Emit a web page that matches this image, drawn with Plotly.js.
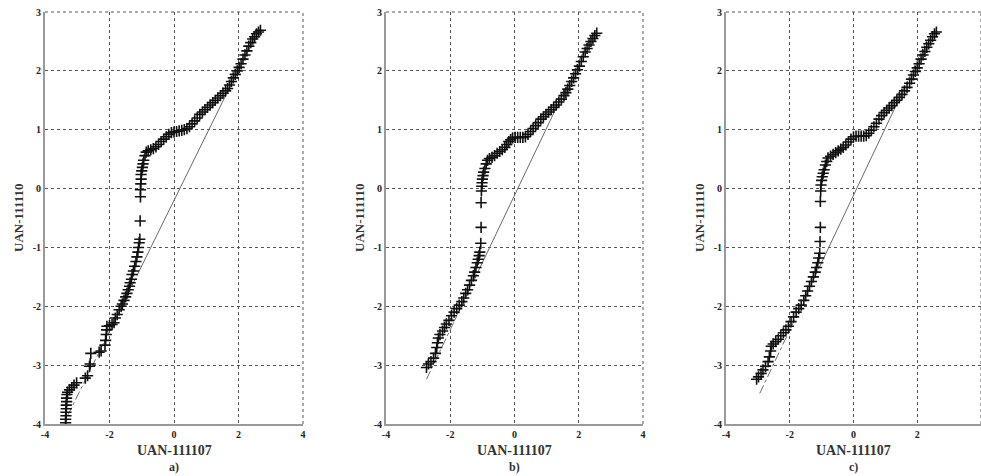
<!DOCTYPE html>
<html>
<head>
<meta charset="utf-8">
<script src="https://cdn.plot.ly/plotly-3.0.1.min.js"></script>
<style>html,body{margin:0;padding:0;background:#fff;}#chart{width:981px;height:476px;}</style>
</head>
<body>
<div id="chart"></div>
<script>
// ---- data ----
const panelLabels = ["a)", "b)", "c)"];
const xTitle = "UAN-111107";
const yTitle = "UAN-111110";
const xTicks = [-4, -2, 0, 2, 4];
const yTicks = [-4, -3, -2, -1, 0, 1, 2, 3];

const aX = [-3.36,-3.36,-3.35,-3.35,-3.34,-3.34,-3.33,-3.33,-3.32,-3.3,-3.24,-3.17,-3.1,-3.02,-2.75,-2.68,-2.62,-2.6,-2.58,-2.32,-2.26,-2.14,-2.12,-2.1,-2.09,-2.08,-2.0,-1.92,-1.86,-1.82,-1.76,-1.7,-1.64,-1.6,-1.55,-1.5,-1.46,-1.42,-1.38,-1.36,-1.32,-1.3,-1.26,-1.22,-1.18,-1.15,-1.12,-1.1,-1.08,-1.06,-1.05,-1.04,-1.04,-1.03,-1.02,-1.02,-1.0,-0.98,-0.96,-0.94,-0.9,-0.86,-0.8,-0.72,-0.64,-0.56,-0.48,-0.4,-0.32,-0.24,-0.16,-0.08,0.0,0.08,0.16,0.24,0.32,0.4,0.48,0.56,0.64,0.72,0.8,0.88,0.96,1.04,1.12,1.2,1.28,1.36,1.44,1.52,1.6,1.66,1.72,1.78,1.84,1.9,1.96,2.02,2.08,2.14,2.2,2.26,2.32,2.38,2.44,2.5,2.56,2.62,2.68];
const aY = [-3.98,-3.92,-3.86,-3.8,-3.74,-3.68,-3.62,-3.56,-3.5,-3.46,-3.42,-3.38,-3.34,-3.3,-3.22,-3.18,-3.02,-2.98,-2.8,-2.78,-2.76,-2.66,-2.58,-2.48,-2.4,-2.34,-2.33,-2.31,-2.28,-2.2,-2.14,-2.06,-2.0,-1.96,-1.9,-1.84,-1.78,-1.72,-1.66,-1.6,-1.54,-1.46,-1.4,-1.32,-1.24,-1.16,-1.08,-1.0,-0.92,-0.86,-0.55,-0.14,-0.02,0.08,0.16,0.24,0.3,0.36,0.42,0.48,0.56,0.62,0.64,0.66,0.68,0.71,0.75,0.8,0.84,0.88,0.92,0.95,0.96,0.97,0.98,0.99,1.0,1.02,1.05,1.1,1.15,1.2,1.26,1.3,1.34,1.38,1.42,1.46,1.5,1.54,1.58,1.62,1.66,1.7,1.76,1.82,1.88,1.94,2.0,2.06,2.12,2.2,2.27,2.34,2.42,2.48,2.54,2.58,2.63,2.66,2.69];

const bX = [-2.74,-2.68,-2.6,-2.52,-2.46,-2.42,-2.4,-2.37,-2.32,-2.24,-2.18,-2.12,-2.04,-1.96,-1.88,-1.8,-1.72,-1.64,-1.58,-1.52,-1.46,-1.4,-1.34,-1.28,-1.24,-1.2,-1.16,-1.13,-1.1,-1.08,-1.05,-1.04,-1.04,-1.03,-1.02,-1.01,-1.0,-0.98,-0.96,-0.92,-0.88,-0.84,-0.78,-0.7,-0.62,-0.54,-0.46,-0.38,-0.3,-0.24,-0.18,-0.12,-0.06,0.02,0.1,0.18,0.26,0.34,0.42,0.5,0.58,0.66,0.74,0.82,0.9,0.98,1.06,1.14,1.22,1.3,1.38,1.46,1.54,1.6,1.66,1.72,1.78,1.84,1.9,1.96,2.02,2.08,2.14,2.2,2.26,2.32,2.38,2.44,2.5,2.56];
const bY = [-3.04,-2.98,-2.94,-2.88,-2.8,-2.7,-2.62,-2.54,-2.48,-2.42,-2.36,-2.3,-2.24,-2.16,-2.1,-2.04,-1.98,-1.92,-1.86,-1.78,-1.72,-1.64,-1.56,-1.48,-1.42,-1.34,-1.26,-1.2,-1.14,-1.08,-0.93,-0.66,-0.24,-0.04,0.04,0.1,0.16,0.22,0.28,0.34,0.42,0.48,0.51,0.53,0.56,0.6,0.63,0.66,0.7,0.75,0.8,0.83,0.86,0.87,0.87,0.87,0.87,0.88,0.92,0.97,1.02,1.07,1.12,1.18,1.22,1.26,1.3,1.34,1.38,1.42,1.47,1.52,1.58,1.63,1.69,1.75,1.82,1.88,1.95,2.02,2.08,2.16,2.24,2.32,2.38,2.44,2.5,2.55,2.6,2.64];

const cX = [-3.04,-2.98,-2.9,-2.84,-2.76,-2.68,-2.64,-2.6,-2.58,-2.52,-2.44,-2.36,-2.28,-2.2,-2.12,-2.04,-1.96,-1.88,-1.8,-1.72,-1.64,-1.56,-1.5,-1.44,-1.38,-1.32,-1.26,-1.2,-1.16,-1.12,-1.09,-1.06,-1.05,-1.04,-1.04,-1.03,-1.02,-1.0,-0.98,-0.95,-0.92,-0.88,-0.84,-0.8,-0.72,-0.64,-0.56,-0.48,-0.4,-0.32,-0.24,-0.16,-0.08,0.0,0.08,0.16,0.24,0.32,0.4,0.48,0.56,0.64,0.72,0.8,0.88,0.96,1.04,1.12,1.2,1.28,1.36,1.44,1.52,1.6,1.68,1.76,1.82,1.88,1.94,2.0,2.06,2.12,2.18,2.24,2.3,2.36,2.42,2.48,2.54,2.6];
const cY = [-3.24,-3.2,-3.14,-3.08,-3.02,-2.94,-2.86,-2.76,-2.68,-2.64,-2.6,-2.56,-2.5,-2.45,-2.4,-2.34,-2.26,-2.18,-2.1,-2.04,-1.98,-1.9,-1.82,-1.74,-1.66,-1.58,-1.5,-1.42,-1.34,-1.26,-1.18,-1.1,-0.9,-0.66,-0.22,-0.04,0.06,0.14,0.2,0.26,0.32,0.4,0.46,0.52,0.55,0.58,0.61,0.64,0.67,0.7,0.74,0.79,0.84,0.88,0.89,0.89,0.89,0.89,0.9,0.94,0.99,1.05,1.11,1.18,1.24,1.29,1.33,1.37,1.41,1.46,1.5,1.55,1.6,1.66,1.72,1.79,1.86,1.93,1.99,2.05,2.12,2.2,2.27,2.33,2.4,2.46,2.52,2.58,2.63,2.66];

// reference lines: [lower end, first quartile, third quartile, upper visible end]
const lineAX = [-3.3, -1.15, 1.7, 2.5];
const lineAY = [-3.86, -1.48, 1.69, 2.58];
const lineBX = [-2.74, -1.15, 1.5, 2.3];
const lineBY = [-3.24, -1.43, 1.6, 2.5];
const lineCX = [-2.94, -1.1, 1.5, 2.3];
const lineCY = [-3.48, -1.37, 1.6, 2.52];

// ---- build ----
const panels = [
  {x: aX, y: aY, lx: lineAX, ly: lineAY},
  {x: bX, y: bY, lx: lineBX, ly: lineBY},
  {x: cX, y: cY, lx: lineCX, ly: lineCY}
];
const W = 981, H = 476;
const domainsPx = [[45, 303], [386, 643], [726, 981]];
const plotTop = 12, plotBottom = 424;
const serif = "Liberation Serif, Times New Roman, serif";
const gridColor = "#555";

const traces = [];
panels.forEach((p, i) => {
  const xa = i === 0 ? "x" : "x" + (i + 1);
  const ya = i === 0 ? "y" : "y" + (i + 1);
  const lineColor = "#6a6a6a";
  traces.push({x: [p.lx[0], p.lx[1]], y: [p.ly[0], p.ly[1]], xaxis: xa, yaxis: ya, mode: "lines",
    line: {color: lineColor, width: 1, dash: "dashdot"}, hoverinfo: "skip"});
  traces.push({x: [p.lx[2], p.lx[3]], y: [p.ly[2], p.ly[3]], xaxis: xa, yaxis: ya, mode: "lines",
    line: {color: lineColor, width: 1, dash: "dashdot"}, hoverinfo: "skip"});
  traces.push({x: [p.lx[1], p.lx[2]], y: [p.ly[1], p.ly[2]], xaxis: xa, yaxis: ya, mode: "lines",
    line: {color: lineColor, width: 1}, hoverinfo: "skip"});
  traces.push({x: p.x, y: p.y, xaxis: xa, yaxis: ya, mode: "markers",
    marker: {symbol: "cross-thin-open", size: 8, color: "#111", line: {color: "#111", width: 1.6}}});
});

const layout = {
  width: W, height: H,
  margin: {l: 0, r: 0, t: plotTop, b: H - plotBottom},
  paper_bgcolor: "#fff", plot_bgcolor: "#fff",
  showlegend: false,
  annotations: [],
  shapes: []
};
domainsPx.forEach((d, i) => {
  const sfx = i === 0 ? "" : String(i + 1);
  const xa = "x" + sfx, ya = "y" + sfx;
  layout["xaxis" + sfx] = {
    domain: [d[0] / W, Math.min(1, d[1] / W)], range: [-4, 4], anchor: ya,
    tickvals: xTicks, ticktext: xTicks.map(String),
    showgrid: true, gridcolor: gridColor, griddash: "dot", gridwidth: 1,
    zeroline: false, showline: true, linecolor: "#9a9a9a", linewidth: 2,
    ticks: "", tickfont: {family: serif, size: 10, color: "#222", weight: "bold"}
  };
  layout["yaxis" + sfx] = {
    domain: [0, 1], range: [-4, 3], anchor: xa,
    tickvals: yTicks, ticktext: yTicks.map(String),
    showgrid: true, gridcolor: gridColor, griddash: "dot", gridwidth: 1,
    zeroline: false, showline: true, linecolor: "#9a9a9a", linewidth: 2,
    ticks: "", tickfont: {family: serif, size: 10, color: "#222", weight: "bold"}
  };
  // top and right edge grid lines (dotted), as in the reference
  layout.shapes.push({type: "line", xref: xa + " domain", yref: ya + " domain", x0: 0, x1: 1, y0: 1, y1: 1,
    line: {color: gridColor, width: 1, dash: "dot"}, layer: "below"});
  layout.shapes.push({type: "line", xref: xa + " domain", yref: ya + " domain", x0: 1, x1: 1, y0: 0, y1: 1,
    line: {color: gridColor, width: 1, dash: "dot"}, layer: "below"});
  layout.annotations.push({text: xTitle, xref: "paper", yref: "paper", x: (d[0] + d[1]) / 2 / W, y: -(450 - plotBottom) / (plotBottom - plotTop),
    xanchor: "center", yanchor: "middle", showarrow: false,
    font: {family: serif, size: 14, color: "#333", weight: "bold"}});
  layout.annotations.push({text: panelLabels[i], xref: "paper", yref: "paper", x: (d[0] + d[1]) / 2 / W, y: -(467 - plotBottom) / (plotBottom - plotTop),
    xanchor: "center", yanchor: "middle", showarrow: false,
    font: {family: serif, size: 12, color: "#333", weight: "bold"}});
  layout.annotations.push({text: yTitle, xref: "paper", yref: "paper", x: (d[0] - 27) / W, y: 0.5,
    xanchor: "center", yanchor: "middle", textangle: -90, showarrow: false,
    font: {family: serif, size: 13, color: "#333", weight: "bold"}});
});

Plotly.newPlot("chart", traces, layout, {staticPlot: true});
</script>
</body>
</html>
